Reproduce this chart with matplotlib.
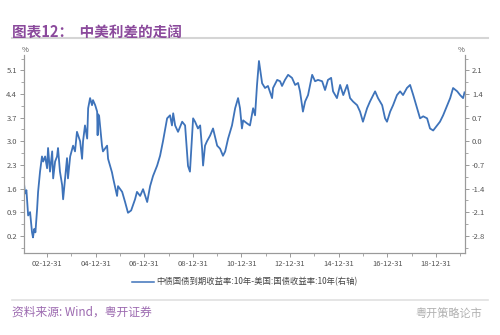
import matplotlib.pyplot as plt
from matplotlib.lines import Line2D

plt.rcParams['font.family'] = ['Noto Sans CJK SC', 'DejaVu Sans']

# decimal years and spread (%, right axis)
years = [2002.05, 2002.09, 2002.15, 2002.22, 2002.30, 2002.38, 2002.42, 2002.47, 2002.52, 2002.59,
         2002.63, 2002.71, 2002.79, 2002.84, 2002.92, 2003.00, 2003.04, 2003.12, 2003.21, 2003.25,
         2003.33, 2003.41, 2003.45, 2003.53, 2003.62, 2003.66, 2003.74, 2003.82, 2003.86, 2003.95,
         2004.07, 2004.15, 2004.23, 2004.36, 2004.44, 2004.48, 2004.56, 2004.65, 2004.69, 2004.77,
         2004.85, 2004.89, 2004.98, 2005.06, 2005.08, 2005.10, 2005.14, 2005.26, 2005.30, 2005.47,
         2005.51, 2005.67, 2005.72, 2005.88, 2005.92, 2006.09, 2006.21, 2006.33, 2006.46, 2006.62,
         2006.70, 2006.83, 2006.95, 2007.12, 2007.24, 2007.36, 2007.53, 2007.65, 2007.77, 2007.94,
         2008.06, 2008.14, 2008.19, 2008.27, 2008.39, 2008.56, 2008.68, 2008.80, 2008.88, 2009.01,
         2009.09, 2009.21, 2009.30, 2009.38, 2009.42, 2009.50, 2009.58, 2009.71, 2009.83, 2010.00,
         2010.12, 2010.24, 2010.33, 2010.45, 2010.61, 2010.74, 2010.86, 2010.94, 2011.02, 2011.07,
         2011.23, 2011.35, 2011.48, 2011.56, 2011.64, 2011.72, 2011.85, 2011.97, 2012.09, 2012.26,
         2012.30, 2012.47, 2012.59, 2012.67, 2012.79, 2012.92, 2013.08, 2013.21, 2013.33, 2013.41,
         2013.53, 2013.62, 2013.74, 2013.91, 2014.03, 2014.15, 2014.32, 2014.44, 2014.56, 2014.69,
         2014.77, 2014.93, 2015.06, 2015.19, 2015.35, 2015.47, 2015.59, 2015.76, 2015.88, 2016.00,
         2016.17, 2016.29, 2016.50, 2016.62, 2016.79, 2016.91, 2016.99, 2017.12, 2017.24, 2017.40,
         2017.53, 2017.65, 2017.81, 2017.94, 2018.07, 2018.23, 2018.35, 2018.48, 2018.64, 2018.76,
         2018.89, 2019.05, 2019.17, 2019.30, 2019.47, 2019.59, 2019.71, 2019.88, 2020.00, 2020.12,
         2020.18]
spread = [-1.25, -1.55, -1.45, -2.20, -2.10, -2.70, -2.85, -2.60, -2.70, -2.00,
          -1.50, -0.90, -0.45, -0.60, -0.45, -0.80, -0.20, -0.90, -0.30, -1.10,
          -0.60, -0.45, -0.20, -0.90, -1.30, -1.72, -1.10, -0.50, -1.10, -0.45,
          -0.13, -0.30, 0.28, 0.00, -0.52, 0.00, 0.47, 0.08, 0.98, 1.28,
          1.07, 1.22, 1.07, 0.88, 0.18, 0.80, 0.76, -0.13, -0.30, -0.13,
          -0.52, -0.92, -1.10, -1.62, -1.33, -1.50, -1.80, -2.12, -2.05, -1.72,
          -1.50, -1.62, -1.42, -1.80, -1.33, -1.03, -0.72, -0.43, 0.00, 0.68,
          0.77, 0.47, 0.83, 0.47, 0.28, 0.58, 0.47, -0.73, -0.90, 0.68,
          0.58, 0.38, 0.47, -0.22, -0.72, -0.13, 0.00, 0.17, 0.38, -0.13,
          -0.22, -0.43, -0.30, 0.08, 0.47, 0.98, 1.28, 0.98, 0.38, 0.62,
          0.53, 0.47, 0.98, 0.77, 1.67, 2.38, 1.72, 1.58, 1.64, 1.28,
          1.58, 1.82, 1.78, 1.64, 1.82, 1.97, 1.88, 1.67, 1.73, 1.48,
          0.88, 1.18, 1.37, 1.97, 1.78, 1.82, 1.78, 1.52, 1.82, 1.88,
          1.48, 1.28, 1.67, 1.37, 1.67, 1.28, 1.18, 1.07, 0.88, 0.58,
          0.98, 1.18, 1.48, 1.28, 1.07, 0.68, 0.58, 0.88, 1.07, 1.37,
          1.48, 1.37, 1.58, 1.67, 1.37, 0.98, 0.68, 0.74, 0.68, 0.38,
          0.32, 0.47, 0.58, 0.77, 1.07, 1.28, 1.58, 1.48, 1.37, 1.28,
          1.45]

right_ticks = [2.1, 1.4, 0.7, 0.0, -0.7, -1.4, -2.1, -2.8]
left_ticks = [5.1, 4.4, 3.7, 3.0, 2.3, 1.6, 0.9, 0.2]
x_ticks = [2003, 2005, 2007, 2009, 2011, 2013, 2015, 2017, 2019]
x_labels = ['02-12-31', '04-12-31', '06-12-31', '08-12-31', '10-12-31',
            '12-12-31', '14-12-31', '16-12-31', '18-12-31']
legend_label = '中债国债到期收益率:10年-美国:国债收益率:10年(右轴)'

purple = '#8B4A9C'
line_color = '#3E73BA'
axis_color = '#9A9A9A'
tick_color = '#555555'

fig = plt.figure(figsize=(5, 3.35), dpi=100)
fig.patch.set_facecolor('white')

ax = fig.add_axes([0.048, 0.245, 0.882, 0.59])
ax2 = ax.twinx()

ax2.plot(years, spread, color=line_color, lw=1.3)
ax2.set_ylim(-3.31, 2.55)
ax.set_ylim(-3.31 + 3.0, 2.55 + 3.0)
ax.set_xlim(2002.05, 2020.2)

ax2.set_yticks(right_ticks)
ax2.set_yticklabels([f'{t:.1f}' for t in right_ticks])
ax2.set_yticks([t + 0.35 for t in right_ticks] + [-3.15], minor=True)
ax.set_yticks(left_ticks)
ax.set_yticklabels([f'{t:.1f}' for t in left_ticks])
ax.set_yticks([t + 0.35 for t in left_ticks] + [-0.15], minor=True)
ax.set_xticks(x_ticks)
ax.set_xticklabels(x_labels)
ax.set_xticks([2004, 2006, 2008, 2010, 2012, 2014, 2016, 2018, 2020], minor=True)

for a in (ax, ax2):
    a.spines['top'].set_visible(False)
    for s in ('left', 'right', 'bottom'):
        a.spines[s].set_color(axis_color)
        a.spines[s].set_linewidth(0.8)
    a.tick_params(which='major', length=3, width=0.7, color=axis_color,
                  labelsize=5.5, labelcolor=tick_color, pad=2)
    a.tick_params(which='minor', length=2, width=0.6, color=axis_color)

fig.text(0.05, 0.838, '%', fontsize=5.5, color=tick_color, ha='center', va='bottom')
fig.text(0.922, 0.838, '%', fontsize=5.5, color=tick_color, ha='center', va='bottom')

handle = Line2D([], [], color=line_color, lw=1.1)
fig.legend([handle], [legend_label], loc='center', bbox_to_anchor=(0.49, 0.158),
           frameon=False, fontsize=6, handlelength=2.6, handletextpad=0.3,
           labelcolor='#444444')

# title and frame lines
fig.text(0.024, 0.905, '图表12：  中美利差的走阔', fontsize=10.5, fontweight='bold',
         color=purple, ha='left', va='center')
fig.add_artist(Line2D([0.024, 0.976], [0.887, 0.887], color='#D5D5D5', lw=1.5))
fig.add_artist(Line2D([0.024, 0.976], [0.103, 0.103], color='#E0E0E0', lw=1.2))

fig.text(0.024, 0.068, '资料来源: Wind，粤开证券', fontsize=8.5, style='italic',
         color='#9C6AB0', ha='left', va='center')
fig.text(0.965, 0.065, '粤开策略论市', fontsize=8, color='#B0B0B0',
         ha='right', va='center')

fig.savefig('out.png', dpi=100, facecolor='white')
